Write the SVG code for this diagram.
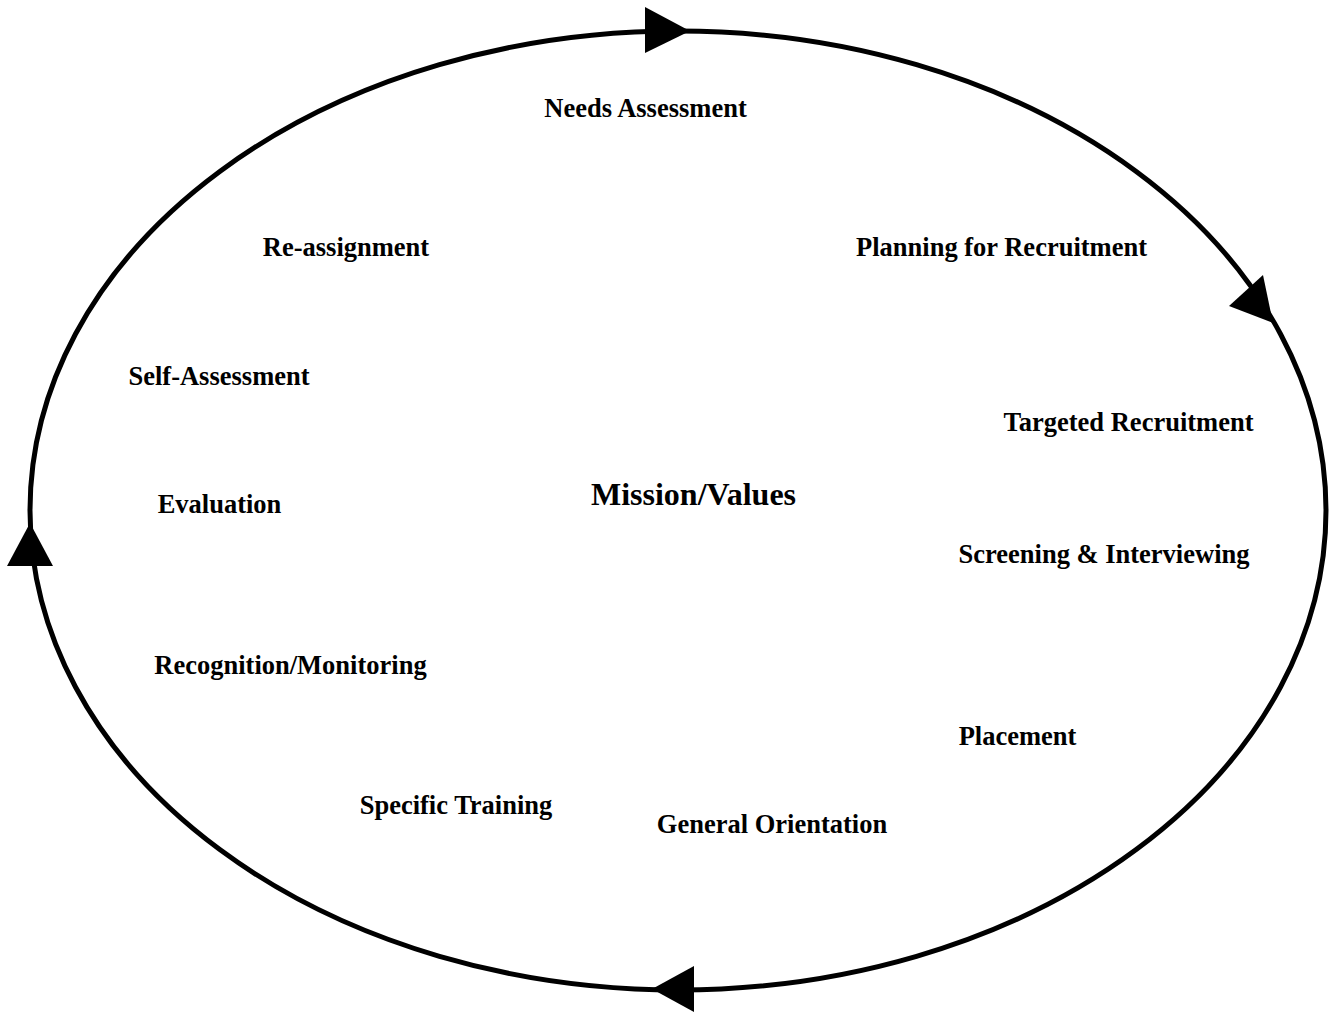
<svg xmlns="http://www.w3.org/2000/svg" width="1331" height="1013" viewBox="0 0 1331 1013">
<style>
.lbl{font-family:"Liberation Serif","Times New Roman",serif;font-weight:bold;font-size:26.5px;fill:#000;text-anchor:middle}
.title{font-family:"Liberation Serif","Times New Roman",serif;font-weight:bold;font-size:32px;fill:#000;text-anchor:middle}
.arr{fill:#000}
</style>
<rect width="1331" height="1013" fill="#fff"/>
<g id="connectors">
<ellipse cx="678" cy="510.5" rx="648" ry="479.5" fill="none" stroke="#000" stroke-width="5"/>
<polygon class="arr" points="690,31 645,7 645,53"/>
<polygon class="arr" points="1273,323 1263,275 1229,306"/>
<polygon class="arr" points="652,989 694,966 694,1012"/>
<polygon class="arr" points="30,523 7,566 53,566"/>
</g>
<g id="node-needs"><text class="lbl" x="645.5" y="117">Needs Assessment</text></g>
<g id="node-reassignment"><text class="lbl" x="346" y="256">Re-assignment</text></g>
<g id="node-planning"><text class="lbl" x="1001.5" y="256">Planning for Recruitment</text></g>
<g id="node-self"><text class="lbl" x="219" y="385">Self-Assessment</text></g>
<g id="node-targeted"><text class="lbl" x="1128.5" y="431">Targeted Recruitment</text></g>
<g id="node-mission"><text class="title" x="693.5" y="505">Mission/Values</text></g>
<g id="node-evaluation"><text class="lbl" x="219.5" y="513">Evaluation</text></g>
<g id="node-screening"><text class="lbl" x="1104" y="563">Screening &amp; Interviewing</text></g>
<g id="node-recognition"><text class="lbl" x="290.5" y="674">Recognition/Monitoring</text></g>
<g id="node-placement"><text class="lbl" x="1017.5" y="745">Placement</text></g>
<g id="node-specific"><text class="lbl" x="456" y="814">Specific Training</text></g>
<g id="node-general"><text class="lbl" x="772" y="833">General Orientation</text></g>
</svg>
